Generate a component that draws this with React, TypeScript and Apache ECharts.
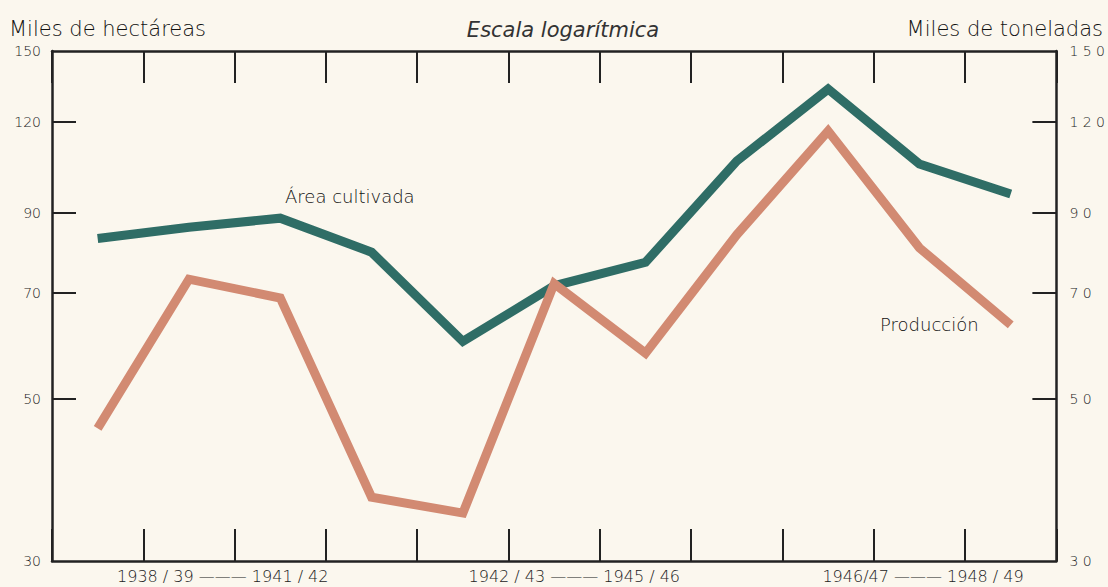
import React, { useEffect, useRef } from "react";
import * as echarts from "echarts";

const categories = [
  "1938/39", "1939/40", "1940/41", "1941/42", "1942/43", "1943/44",
  "1944/45", "1945/46", "1946/47", "1947/48", "1948/49",
];
const areaCultivada = [83, 86, 88.5, 79.5, 60, 71.5, 77, 106, 133, 105, 95.5];
const produccion = [45.6, 73, 68.8, 36.7, 34.9, 72, 57.8, 84, 116.5, 80.6, 63.2];
const yTickLabels = [30, 50, 70, 90, 120, 150];
const yInnerTicks = [50, 70, 90, 120];
const periodLabels = ["1938 / 39 ——— 1941 / 42", "1942 / 43 ——— 1945 / 46", "1946/47 ——— 1948 / 49"];

const FONT = "'DejaVu Sans', sans-serif";
const INK = "#222";
const TEXT = "#111";

export default function App() {
  const ref = useRef<HTMLDivElement>(null);
  useEffect(() => {
    if (!ref.current) return;
    const chart = echarts.init(ref.current, undefined, { renderer: "svg" });
    const labelPos = [1.87, 5.72, 9.54];
    const yAxisBase = (pos: "left" | "right") => ({
      type: "log" as const,
      position: pos,
      min: 30,
      max: 150,
      logBase: 10,
      axisLine: { show: true, lineStyle: { color: INK, width: 2.5 } },
      splitLine: { show: false },
      axisTick: {
        show: true,
        inside: true,
        length: 24,
        customValues: yInnerTicks,
        lineStyle: { color: INK, width: 2 },
      },
      axisLabel: {
        customValues: yTickLabels,
        margin: pos === "left" ? 11 : 13,
        color: "#222",
        fontFamily: FONT,
        fontWeight: 200,
        fontSize: 14,
        formatter: (v: number) => (pos === "right" ? String(v).split("").join(" ") : String(v)),
      },
    });
    const xCat = (pos: "top" | "bottom") => ({
      type: "category" as const,
      data: categories,
      position: pos,
      boundaryGap: true,
      axisLine: { show: true, lineStyle: { color: INK, width: 2.5 } },
      axisTick: {
        show: true,
        inside: true,
        length: 32,
        interval: 0,
        lineStyle: { color: INK, width: 2 },
      },
      axisLabel: { show: false },
    });
    chart.setOption({
      animation: false,
      backgroundColor: "#fbf7ee",
      grid: { left: 52, right: 51, top: 51, bottom: 26, containLabel: false },
      xAxis: [
        xCat("bottom"),
        xCat("top"),
        {
          type: "value",
          position: "bottom",
          min: 0,
          max: categories.length,
          axisLine: { show: false },
          axisTick: { show: false },
          splitLine: { show: false },
          axisLabel: {
            customValues: labelPos,
            margin: 7,
            color: "#222",
            fontFamily: FONT,
            fontWeight: 200,
            fontSize: 16,
            formatter: (v: number) => {
              const i = labelPos.indexOf(v);
              return i >= 0 ? periodLabels[i] : "";
            },
          },
        },
      ],
      yAxis: [yAxisBase("left"), yAxisBase("right")],
      series: [
        {
          name: "Área cultivada",
          type: "line",
          xAxisIndex: 0,
          yAxisIndex: 0,
          data: areaCultivada,
          symbol: "none",
          lineStyle: { color: "#2f6d66", width: 9, cap: "butt", join: "miter" },
        },
        {
          name: "Producción",
          type: "line",
          xAxisIndex: 0,
          yAxisIndex: 1,
          data: produccion,
          symbol: "none",
          lineStyle: { color: "#d28a72", width: 9, cap: "butt", join: "miter" },
        },
      ],
      graphic: [
        {
          type: "text",
          left: 9,
          top: 18,
          style: { text: "Miles de hectáreas", fontFamily: FONT, fontWeight: 200, fontSize: 21, fill: TEXT },
        },
        {
          type: "text",
          right: 5,
          top: 18,
          style: { text: "Miles de toneladas", fontFamily: FONT, fontWeight: 200, fontSize: 21, fill: TEXT },
        },
        {
          type: "text",
          x: 563,
          y: 19,
          style: {
            text: "Escala logarítmica",
            fontFamily: FONT,
            fontWeight: 200,
            fontStyle: "italic",
            fontSize: 21,
            fill: "#333",
            align: "center",
          },
        },
        {
          type: "text",
          x: 285,
          y: 187,
          style: { text: "Área cultivada", fontFamily: FONT, fontWeight: 200, fontSize: 18, fill: TEXT },
        },
        {
          type: "text",
          x: 880,
          y: 315,
          style: { text: "Producción", fontFamily: FONT, fontWeight: 200, fontSize: 18, fill: TEXT },
        },
      ],
    });
    return () => chart.dispose();
  }, []);
  return (
    <div
      ref={ref}
      style={{ position: "fixed", left: 0, top: 0, width: 1108, height: 587 }}
    />
  );
}
